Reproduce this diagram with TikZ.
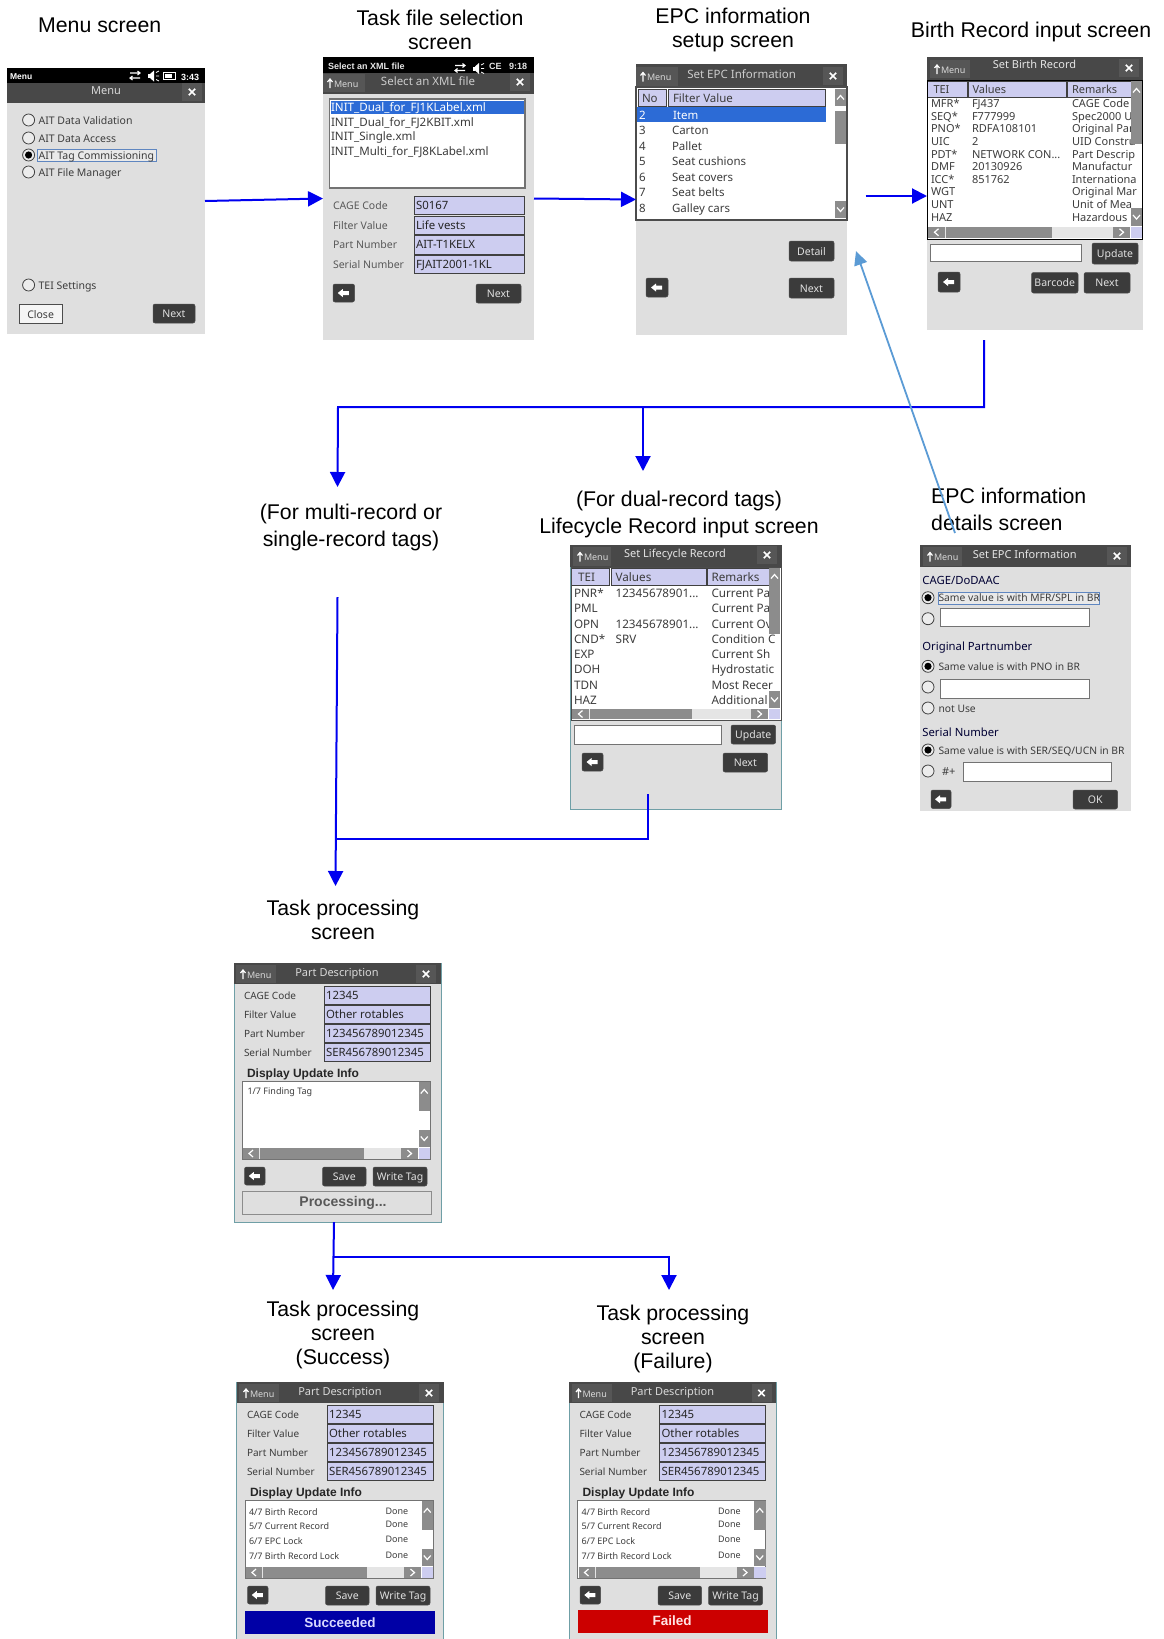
\documentclass[tikz,border=0pt]{standalone}
\usepackage{fontspec}
\setmainfont{Liberation Sans}
\newfontfamily\scrf{Noto Sans}
\usetikzlibrary{arrows.meta}
\definecolor{scrbg}{HTML}{DFDFDF}
\definecolor{bar}{HTML}{484848}
\definecolor{barbtn}{HTML}{565656}
\definecolor{dbtn}{HTML}{3B3B3B}
\definecolor{fieldc}{HTML}{CDCDF0}
\definecolor{selc}{HTML}{2C6BD6}
\definecolor{sbc}{HTML}{8C8C8C}
\definecolor{flow}{HTML}{0000F0}
\definecolor{back}{HTML}{5B9BD5}
\definecolor{labc}{HTML}{3C3C3C}
\definecolor{edgec}{HTML}{6F9FA6}
\definecolor{hil}{HTML}{5F86C0}
\tikzset{
  fs/.style={font=\scrf\fontsize{#1}{#1}\selectfont},
  bfs/.style={font=\rmfamily\bfseries\fontsize{#1}{#1}\selectfont},
  stxt/.style={anchor=mid west,inner sep=0pt,outer sep=0pt,fs=10.5,text=labc,yshift=-1.5pt},
  head/.style={align=center,inner sep=0pt,font=\fontsize{21.3}{24}\selectfont},
  screenbox/.style={fill=scrbg,inner sep=0pt,outer sep=0pt,minimum width=#1},
  flowline/.style={draw=flow,line width=2pt},
  flowarrow/.style={draw=flow,line width=2pt,-{Triangle[length=15pt,width=15pt]}},
  backarrow/.style={draw=back,line width=1.8pt,-{Triangle[length=14pt,width=13pt]}},
  btnbox/.style={fill=dbtn,draw=black!70,line width=.5pt,rounded corners=2pt},
  fieldbox/.style={fill=fieldc,draw=black!75,line width=1pt},
  inbox/.style={fill=white,draw=black!55,line width=1pt},
  radiob/.style={fill=scrbg!60!white,draw=black!75,line width=.8pt},
  hilite/.style={draw=hil,line width=.7pt,fill=scrbg!70!white},
  edgeline/.style={draw=edgec,line width=.7pt}
}
\newcount\tnum
\newcommand{\tx}[4][]{\global\advance\tnum by 1 \node[stxt,name=t\the\tnum,#1] at (#2,#3) {#4};}
\newcommand{\scr}[5]{\node[screenbox=#4pt,minimum height=#5pt] (#1) at (#2,#3) {};}
\newcommand{\btn}[5]{\pgfmathsetmacro\bcx{(#1+#3)/2}\pgfmathsetmacro\bcy{(#2+#4)/2}%
  \draw[btnbox] (#1,#2) rectangle (#3,#4);\tx[anchor=mid,text=white!88!black]{\bcx}{\bcy}{#5}}
\newcommand{\backb}[4]{\pgfmathsetmacro\bcx{(#1+#3)/2}\pgfmathsetmacro\bcy{(#2+#4)/2}%
  \draw[btnbox] (#1,#2) rectangle (#3,#4);
  \begin{scope}[shift={(\bcx,\bcy)}]\fill[white] (-6,0)--(-1,-4)--(-1,-2)--(5,-2)--(5,2)--(-1,2)--(-1,4)--cycle;\end{scope}}
\newcommand{\radio}[2]{\draw[radiob] (#1,#2) circle[radius=6];}
\newcommand{\radiosel}[2]{\draw[radiob] (#1,#2) circle[radius=6];\fill[black] (#1,#2) circle[radius=3.6];}
\newcommand{\field}[5]{\draw[fieldbox] (#1,#2) rectangle (#3,#4);\pgfmathsetmacro\bcy{(#2+#4)/2}\pgfmathsetmacro\bcx{#1+2}\tx[fs=11.4,text=black!85]{\bcx}{\bcy}{#5}}
\newcommand{\menubtn}[4]{\fill[barbtn] (#1,#2) rectangle (#3,#4);\pgfmathsetmacro\bcy{(#2+#4)/2}\pgfmathsetmacro\bcx{#1+4}\pgfmathsetmacro\bdx{#1+11}%
  \begin{scope}[shift={(\bcx,\bcy)}]\draw[white,line width=1.2pt] (3,5)--(3,-3)(0.5,-1)--(3,-4)--(5.5,-1);\end{scope}
  \tx[fs=9,text=white!85!black]{\bdx}{\bcy}{Menu}}
\newcommand{\closeb}[2]{\begin{scope}[shift={(#1,#2)}]\fill[barbtn] (-10,-9) rectangle (10,9);\draw[white,line width=1.6pt] (-3.2,-3.2)--(3.2,3.2)(-3.2,3.2)--(3.2,-3.2);\end{scope}}
\newcommand{\upb}[4]{\fill[sbc] (#1,#2) rectangle (#3,#4);\pgfmathsetmacro\bcx{(#1+#3)/2}\pgfmathsetmacro\bcy{(#2+#4)/2}%
  \begin{scope}[shift={(\bcx,\bcy)}]\draw[white,line width=1.2pt] (-3.5,2)--(0,-2)--(3.5,2);\end{scope}}
\newcommand{\downb}[4]{\fill[sbc] (#1,#2) rectangle (#3,#4);\pgfmathsetmacro\bcx{(#1+#3)/2}\pgfmathsetmacro\bcy{(#2+#4)/2}%
  \begin{scope}[shift={(\bcx,\bcy)}]\draw[white,line width=1.2pt] (-3.5,-2)--(0,2)--(3.5,-2);\end{scope}}
\newcommand{\leftb}[4]{\fill[sbc] (#1,#2) rectangle (#3,#4);\pgfmathsetmacro\bcx{(#1+#3)/2}\pgfmathsetmacro\bcy{(#2+#4)/2}%
  \begin{scope}[shift={(\bcx,\bcy)}]\draw[white,line width=1.2pt] (2,-3.5)--(-2,0)--(2,3.5);\end{scope}}
\newcommand{\rightb}[4]{\fill[sbc] (#1,#2) rectangle (#3,#4);\pgfmathsetmacro\bcx{(#1+#3)/2}\pgfmathsetmacro\bcy{(#2+#4)/2}%
  \begin{scope}[shift={(\bcx,\bcy)}]\draw[white,line width=1.2pt] (-2,-3.5)--(2,0)--(-2,3.5);\end{scope}}
\newcommand{\thumbb}[4]{\fill[sbc] (#1,#2) rectangle (#3,#4);}
\newcommand{\statusicons}{%
  \draw[white,line width=1.1pt] (130,73)--(140,73)(137.5,71)--(140,73)--(137.5,75);
  \draw[white,line width=1.1pt] (140,78)--(130,78)(132.5,76)--(130,78)--(132.5,80);
  \fill[white] (148,74) rectangle (150,78);\fill[white] (150,74)--(154,70.5)--(154,81.5)--(150,78)--cycle;
  \draw[white,line width=.8pt] (156,72.5)--(159,71)(156,76)--(159,76)(156,79.5)--(159,81);
}
% one "Part Description" screen, given in the coordinates of the Success screen
\newcommand{\partscreen}[3]{%
  \begin{scope}[shift={(#1,#2)}]
  \fill[bar] (236.5,1382) rectangle (443.5,1403);
  \menubtn{239}{1384}{279}{1402}
  \tx[anchor=mid,fs=11,text=white!85!black]{340}{1391}{Part Description}
  \closeb{429}{1393}
  \tx[fs=10]{247}{1414}{CAGE Code}\tx[fs=10]{247}{1433}{Filter Value}\tx[fs=10]{247}{1452}{Part Number}\tx[fs=10]{247}{1471}{Serial Number}
  \field{327}{1405.5}{433}{1423.5}{12345}
  \field{327}{1424.5}{433}{1442.5}{Other rotables}
  \field{327}{1443.5}{433}{1461}{123456789012345}
  \field{327}{1462}{433}{1480}{SER456789012345}
  \tx[bfs=12,text=black!85]{250}{1492}{Display Update Info}
  \draw[inbox] (245,1500.5) rectangle (433,1578);
  \upb{421.5}{1501}{433}{1520}\thumbb{421.5}{1520}{433}{1530}
  \downb{421.5}{1549}{433}{1566}
  \fill[black!10] (246,1567) rectangle (421,1578);
  \leftb{246}{1567}{262}{1578}\thumbb{263}{1567}{367}{1578}\rightb{404}{1567}{421}{1578}
  \fill[fieldc] (421.5,1567) rectangle (433,1578);
  \backb{247.5}{1586}{268}{1604}
  \btn{325.5}{1586}{369}{1605}{Save}
  \btn{376}{1586}{430}{1605}{Write Tag}
  #3
  \end{scope}}
\newcommand{\updaterows}{%
  \tx[fs=9]{249}{1511}{4/7 Birth Record}\tx[fs=9]{385.5}{1510}{Done}
  \tx[fs=9]{249}{1525}{5/7 Current Record}\tx[fs=9]{385.5}{1523.5}{Done}
  \tx[fs=9]{249}{1540}{6/7 EPC Lock}\tx[fs=9]{385.5}{1538}{Done}
  \tx[fs=9]{249}{1555}{7/7 Birth Record Lock}\tx[fs=9]{385.5}{1554}{Done}}
\begin{document}
\begin{tikzpicture}[x=1pt,y=-1pt]
\useasboundingbox (0,0) rectangle (1164,1639);
\fill[white] (0,0) rectangle (1164,1639);

%% labels
\node[head] (lMenu) at (99.7,25) {Menu screen};
\node[head] (lTask) at (440,30) {Task file selection\\screen};
\node[head] (lEpc) at (733,30) {EPC information\\setup screen};
\node[head] (lBirth) at (1031,31.5) {Birth Record input screen};
\node[head,font=\fontsize{21.3}{27}\selectfont] (lMulti) at (351,527) {(For multi-record or\\single-record tags)};
\node[head,font=\fontsize{21.3}{27}\selectfont] (lDual) at (679,514.5) {(For dual-record tags)\\Lifecycle Record input screen};
\node[head,align=left,font=\fontsize{21.3}{27}\selectfont,anchor=west] (lDetails) at (931,509.5) {EPC information\\details screen};
\node[head] (lProc) at (343,920) {Task processing\\screen};
\node[head] (lSucc) at (343,1335) {Task processing\\screen\\(Success)};
\node[head] (lFail) at (673,1339) {Task processing\\screen\\(Failure)};

%% Menu screen
\scr{menu}{106}{201}{198}{266}
\fill[black] (7,68) rectangle (205,83);
\fill[bar] (7,83) rectangle (205,103);
\tx[bfs=8.5,text=white]{10}{75.5}{Menu}
\statusicons
\draw[white,line width=1pt] (163,72.5) rectangle (175,79.5);\fill[white] (165,74) rectangle (172,78);
\tx[bfs=9,text=white]{181}{76}{3:43}
\tx[anchor=mid,fs=11,text=white!85!black]{106}{90}{Menu}
\closeb{192}{92}
\draw[hilite] (37.5,149) rectangle (156.5,161);
\radio{28.6}{120}\tx{38.6}{120}{AIT Data Validation}
\radio{28.6}{138}\tx{38.6}{138}{AIT Data Access}
\radiosel{28.6}{155}\tx{38.6}{155}{AIT Tag Commissioning}
\radio{28.6}{172}\tx{38.6}{172}{AIT File Manager}
\radio{28.6}{285}\tx{38.6}{285}{TEI Settings}
\draw[fill=white!96!black,draw=black!70,line width=1pt] (19.3,304) rectangle (62,323);
\tx[anchor=mid]{40.6}{314}{Close}
\btn{153}{304}{195}{323}{Next}

%% Task file selection screen
\scr{task}{428.5}{198.5}{211}{283}
\fill[black] (323,57) rectangle (534,73);
\fill[bar] (323,73) rectangle (534,94);
\tx[bfs=9,text=white!90!black]{328}{65}{Select an XML file}
\begin{scope}[shift={(325,-7.5)}]\statusicons\end{scope}
\tx[bfs=9,text=white!90!black]{489}{65}{CE}
\tx[bfs=9,text=white!90!black]{509}{65}{9:18}
\menubtn{323}{74}{365}{92}
\tx[anchor=mid,fs=11.5,text=white!80!black]{428}{81}{Select an XML file}
\closeb{520}{82}
\draw[inbox,line width=1.3pt] (329.6,99) rectangle (525,188);
\fill[selc] (331,101) rectangle (524,114);
\tx[fs=11.6,text=white]{331}{107}{INIT\_Dual\_for\_FJ1KLabel.xml}
\tx[fs=11.6]{331}{122}{INIT\_Dual\_for\_FJ2KBIT.xml}
\tx[fs=11.6]{331}{136}{INIT\_Single.xml}
\tx[fs=11.6]{331}{151}{INIT\_Multi\_for\_FJ8KLabel.xml}
\tx[text=black!65]{333}{205}{CAGE Code}\tx[text=black!65]{333}{225}{Filter Value}\tx[text=black!65]{333}{244}{Part Number}\tx[text=black!65]{333}{264}{Serial Number}
\field{414}{196}{524}{214}{S0167}
\field{414}{216}{524}{234}{Life vests}
\field{414}{235}{524}{254}{AIT-T1KELX}
\field{414}{255}{524}{273}{FJAIT2001-1KL}
\backb{333}{284}{354.5}{302}
\btn{476}{284}{521}{303}{Next}

%% EPC information setup screen
\scr{epc}{741.5}{199.5}{211}{271}
\fill[bar] (636,64) rectangle (847,87);
\menubtn{636}{67}{678}{86}
\tx[anchor=mid,fs=11.5,text=white!80!black]{741.6}{74}{Set EPC Information}
\closeb{833}{76}
\fill[white] (636,87) rectangle (847,220);
\draw[fieldbox] (638,89) rectangle (666.6,106);\tx[fs=11.5]{642}{98}{No}
\draw[fieldbox] (668,89) rectangle (825,106);\tx[fs=11.5]{673}{98}{Filter Value}
\fill[selc] (637,107) rectangle (826,122);
\tx[fs=11.5,text=white]{639}{115}{2}\tx[fs=11.5,text=white]{673}{115}{Item}
\tx[fs=11.5]{639}{130.5}{3}\tx[fs=11.5]{672}{130.5}{Carton}
\tx[fs=11.5]{639}{146}{4}\tx[fs=11.5]{672}{146}{Pallet}
\tx[fs=11.5]{639}{161.5}{5}\tx[fs=11.5]{672}{161.5}{Seat cushions}
\tx[fs=11.5]{639}{177.5}{6}\tx[fs=11.5]{672}{177.5}{Seat covers}
\tx[fs=11.5]{639}{192.5}{7}\tx[fs=11.5]{672}{192.5}{Seat belts}
\tx[fs=11.5]{639}{208}{8}\tx[fs=11.5]{672}{208}{Galley cars}
\upb{835}{89}{846}{106}\thumbb{835}{111}{846}{144}\downb{835}{201}{846}{218}
\draw[black!70,line width=1.2pt] (636,87) rectangle (847,220);
\btn{789}{241}{834}{261}{Detail}
\btn{789}{278}{834}{298}{Next}
\backb{646}{278}{668}{297}

%% Birth Record input screen
\scr{birth}{1035}{193.5}{216}{273}
\fill[bar] (927,57) rectangle (1143,80);
\menubtn{930}{60}{970}{78}
\tx[anchor=mid,fs=11,text=white!90!black]{1034.5}{64}{Set Birth Record}
\closeb{1129}{68}
\fill[white] (927,80) rectangle (1143,239);
\draw[fieldbox] (927.5,81) rectangle (967,97);\tx[fs=11]{933.5}{89}{TEI}
\draw[fieldbox] (968,81) rectangle (1066,97);\tx[fs=11]{972.5}{89}{Values}
\draw[fieldbox] (1067,81) rectangle (1131,97);\tx[fs=11]{1072}{89}{Remarks}
\tx[fs=11]{931}{103.3}{MFR*}\tx[fs=11]{972}{103.3}{FJ437}\tx[fs=11]{1072}{103.3}{CAGE Code}
\tx[fs=11]{931}{116}{SEQ*}\tx[fs=11]{972}{116}{F777999}\tx[fs=11]{1072}{116}{Spec2000 U}
\tx[fs=11]{931}{128.7}{PNO*}\tx[fs=11]{972}{128.7}{RDFA108101}\tx[fs=11]{1072}{128.7}{Original Par}
\tx[fs=11]{931}{141.3}{UIC}\tx[fs=11]{972}{141.3}{2}\tx[fs=11]{1072}{141.3}{UID Constru}
\tx[fs=11]{931}{154}{PDT*}\tx[fs=11]{972}{154}{NETWORK CON...}\tx[fs=11]{1072}{154}{Part Descrip}
\tx[fs=11]{931}{166.7}{DMF}\tx[fs=11]{972}{166.7}{20130926}\tx[fs=11]{1072}{166.7}{Manufactur}
\tx[fs=11]{931}{179.3}{ICC*}\tx[fs=11]{972}{179.3}{851762}\tx[fs=11]{1072}{179.3}{Internationa}
\tx[fs=11]{931}{191.7}{WGT}\tx[fs=11]{1072}{191.7}{Original Mar}
\tx[fs=11]{931}{204.3}{UNT}\tx[fs=11]{1072}{204.3}{Unit of Mea}
\tx[fs=11]{931}{217}{HAZ}\tx[fs=11]{1072}{217}{Hazardous M}
\upb{1131}{81}{1142}{100}\thumbb{1131}{100}{1142}{144}\downb{1131}{208}{1142}{226}
\fill[black!10] (928,226.5) rectangle (1130,238);
\leftb{928}{226.5}{945}{238}\thumbb{946}{226.5}{1052}{238}\rightb{1113}{226.5}{1130}{238}
\fill[fieldc] (1131,226.5) rectangle (1142,238);
\draw[black,line width=1pt] (927.5,80) rectangle (1142.5,239);
\draw[inbox] (930,244) rectangle (1081,261);
\btn{1092}{243}{1138}{264}{Update}
\backb{938}{272}{960}{292}
\btn{1031.5}{272.5}{1078}{293}{Barcode}
\btn{1084}{272.5}{1130}{293}{Next}

%% Lifecycle Record input screen
\scr{life}{675.75}{677}{211.5}{264}
\draw[edgeline] (570,545) rectangle (781.5,809);
\fill[bar] (570,545) rectangle (781.5,567);
\menubtn{573}{547}{611}{566}
\tx[anchor=mid,fs=11,text=white!90!black]{675}{553.7}{Set Lifecycle Record}
\closeb{767}{555}
\fill[white] (571,567) rectangle (781,720);
\draw[fieldbox] (571,568) rectangle (609.6,585);\tx[fs=11.7]{578}{577}{TEI}
\draw[fieldbox] (611,568) rectangle (706,585);\tx[fs=11.7]{615.6}{577}{Values}
\draw[fieldbox] (707,568) rectangle (769,585);\tx[fs=11.7]{711.5}{577}{Remarks}
\tx[fs=11.7]{574}{593.7}{PNR*}\tx[fs=11.7]{615.6}{593.7}{12345678901...}\tx[fs=11.7]{711.5}{593.7}{Current Par}
\tx[fs=11.7]{574}{608.7}{PML}\tx[fs=11.7]{711.5}{608.7}{Current Par}
\tx[fs=11.7]{574}{624}{OPN}\tx[fs=11.7]{615.6}{624}{12345678901...}\tx[fs=11.7]{711.5}{624}{Current Ov}
\tx[fs=11.7]{574}{639}{CND*}\tx[fs=11.7]{615.6}{639}{SRV}\tx[fs=11.7]{711.5}{639}{Condition C}
\tx[fs=11.7]{574}{654.3}{EXP}\tx[fs=11.7]{711.5}{654.3}{Current Sh}
\tx[fs=11.7]{574}{669.7}{DOH}\tx[fs=11.7]{711.5}{669.7}{Hydrostatic}
\tx[fs=11.7]{574}{685}{TDN}\tx[fs=11.7]{711.5}{685}{Most Recer}
\tx[fs=11.7]{574}{700}{HAZ}\tx[fs=11.7]{711.5}{700}{Additional I}
\upb{769}{568}{780}{585}\thumbb{769}{585}{780}{634}\downb{769}{691}{780}{708}
\fill[black!10] (572,709) rectangle (768,719);
\leftb{572}{709}{589}{719}\thumbb{590}{709}{692}{719}\rightb{751}{709}{768}{719}
\fill[fieldc] (769,709) rectangle (780,719);
\draw[black!70,line width=.8pt] (571,567) rectangle (781,720);
\draw[inbox] (574,725.5) rectangle (721,744);
\btn{731}{725}{775.6}{744}{Update}
\backb{582}{753}{603}{771}
\btn{723}{753}{767.6}{772}{Next}

%% EPC information details screen
\scr{details}{1025.5}{678}{211}{266}
\fill[bar] (920,545) rectangle (1131,567);
\menubtn{923}{547}{962}{566}
\tx[anchor=mid,fs=11,text=white!90!black]{1024.7}{554}{Set EPC Information}
\closeb{1117}{556}
\tx[fs=11.3,text=blue!20!black]{922.4}{580}{CAGE/DoDAAC}
\draw[hilite] (938,592) rectangle (1099,604);
\radiosel{928}{597.7}\tx[fs=10.3]{938.5}{597.7}{Same value is with MFR/SPL in BR}
\radio{928}{618.7}\draw[inbox] (940,608) rectangle (1089,626.7);
\tx[fs=11.3,text=blue!20!black]{922.4}{646}{Original Partnumber}
\radiosel{928}{666.3}\tx[fs=10.3]{938.5}{666.3}{Same value is with PNO in BR}
\radio{928}{687}\draw[inbox] (940,679) rectangle (1089,698);
\radio{928}{708}\tx[fs=10.3]{938.5}{708}{not Use}
\tx[fs=11.3,text=blue!20!black]{922.4}{732.7}{Serial Number}
\radiosel{928}{750}\tx[fs=10.3]{938.5}{750}{Same value is with SER/SEQ/UCN in BR}
\radio{928}{771}\tx[fs=11]{942}{771}{\#+}\draw[inbox] (963,762) rectangle (1111,781);
\backb{931}{790}{951}{808.5}
\btn{1073}{790}{1117.5}{809}{OK}

%% Task processing screens
\scr{proc}{337.5}{1092.5}{207}{259}
\draw[edgeline] (234,963) rectangle (441,1222);
\partscreen{-3}{-419}{%
  \tx[fs=9]{250.5}{1509}{1/7 Finding Tag}
  \draw[black!45,line width=1pt,fill=scrbg] (245,1610) rectangle (434,1633);
  \tx[anchor=mid,bfs=14,text=black!65]{346}{1621}{Processing...}}

\scr{succ}{340}{1510.5}{207}{257}
\draw[edgeline] (236.5,1382) -- (236.5,1639) (443.5,1382) -- (443.5,1639);
\partscreen{0}{0}{%
  \updaterows
  \fill[blue!65!black] (245,1611) rectangle (435,1634);
  \tx[anchor=mid,bfs=13.5,text=white!85!blue]{340}{1623}{Succeeded}}

\scr{fail}{672.5}{1510.5}{207}{257}
\draw[edgeline] (569,1382) -- (569,1639) (776,1382) -- (776,1639);
\partscreen{332.5}{0}{%
  \updaterows
  \fill[red!80!black] (245,1610) rectangle (435,1633);
  \tx[anchor=mid,bfs=13.5,text=white!90!red]{339.5}{1621.5}{Failed}}

%% connectors
\coordinate (epcOut) at (865.6,196);
\coordinate (birthIn) at (927,196);
\coordinate (birthOut) at (984,340);
\coordinate (splitR) at (984,407);
\coordinate (splitM) at (643,407);
\coordinate (splitL) at (338,407);
\coordinate (multiTip) at (337.5,487);
\coordinate (dualTip) at (643,471);
\coordinate (multiOut) at (337.5,597);
\coordinate (procTip) at (335.5,886);
\coordinate (lifeOut) at (648,794);
\coordinate (lifeCorner) at (648,839);
\coordinate (lifeJoin) at (336,839);
\coordinate (procOut) at (334,1222);
\coordinate (succTip) at (333,1290);
\coordinate (procJoin) at (334,1257);
\coordinate (failCorner) at (669,1257);
\coordinate (failTip) at (669,1290);
\coordinate (detailsOut) at (955,533);
\coordinate (epcIn) at (856,251);
\draw[flowarrow] (menu.east) -- (task.west);
\draw[flowarrow] (task.east) -- (epc.west);
\draw[flowarrow] (epcOut) -- (birthIn);
\draw[flowarrow] (birthOut) -- (splitR) -- (splitL) -- (multiTip);
\draw[flowarrow] (splitM) -- (dualTip);
\draw[flowarrow] (multiOut) -- (procTip);
\draw[flowline] (lifeOut) -- (lifeCorner) -- (lifeJoin);
\draw[flowarrow] (procOut) -- (succTip);
\draw[flowarrow] (procJoin) -- (failCorner) -- (failTip);
\draw[backarrow] (detailsOut) -- (epcIn);
\end{tikzpicture}
\end{document}
